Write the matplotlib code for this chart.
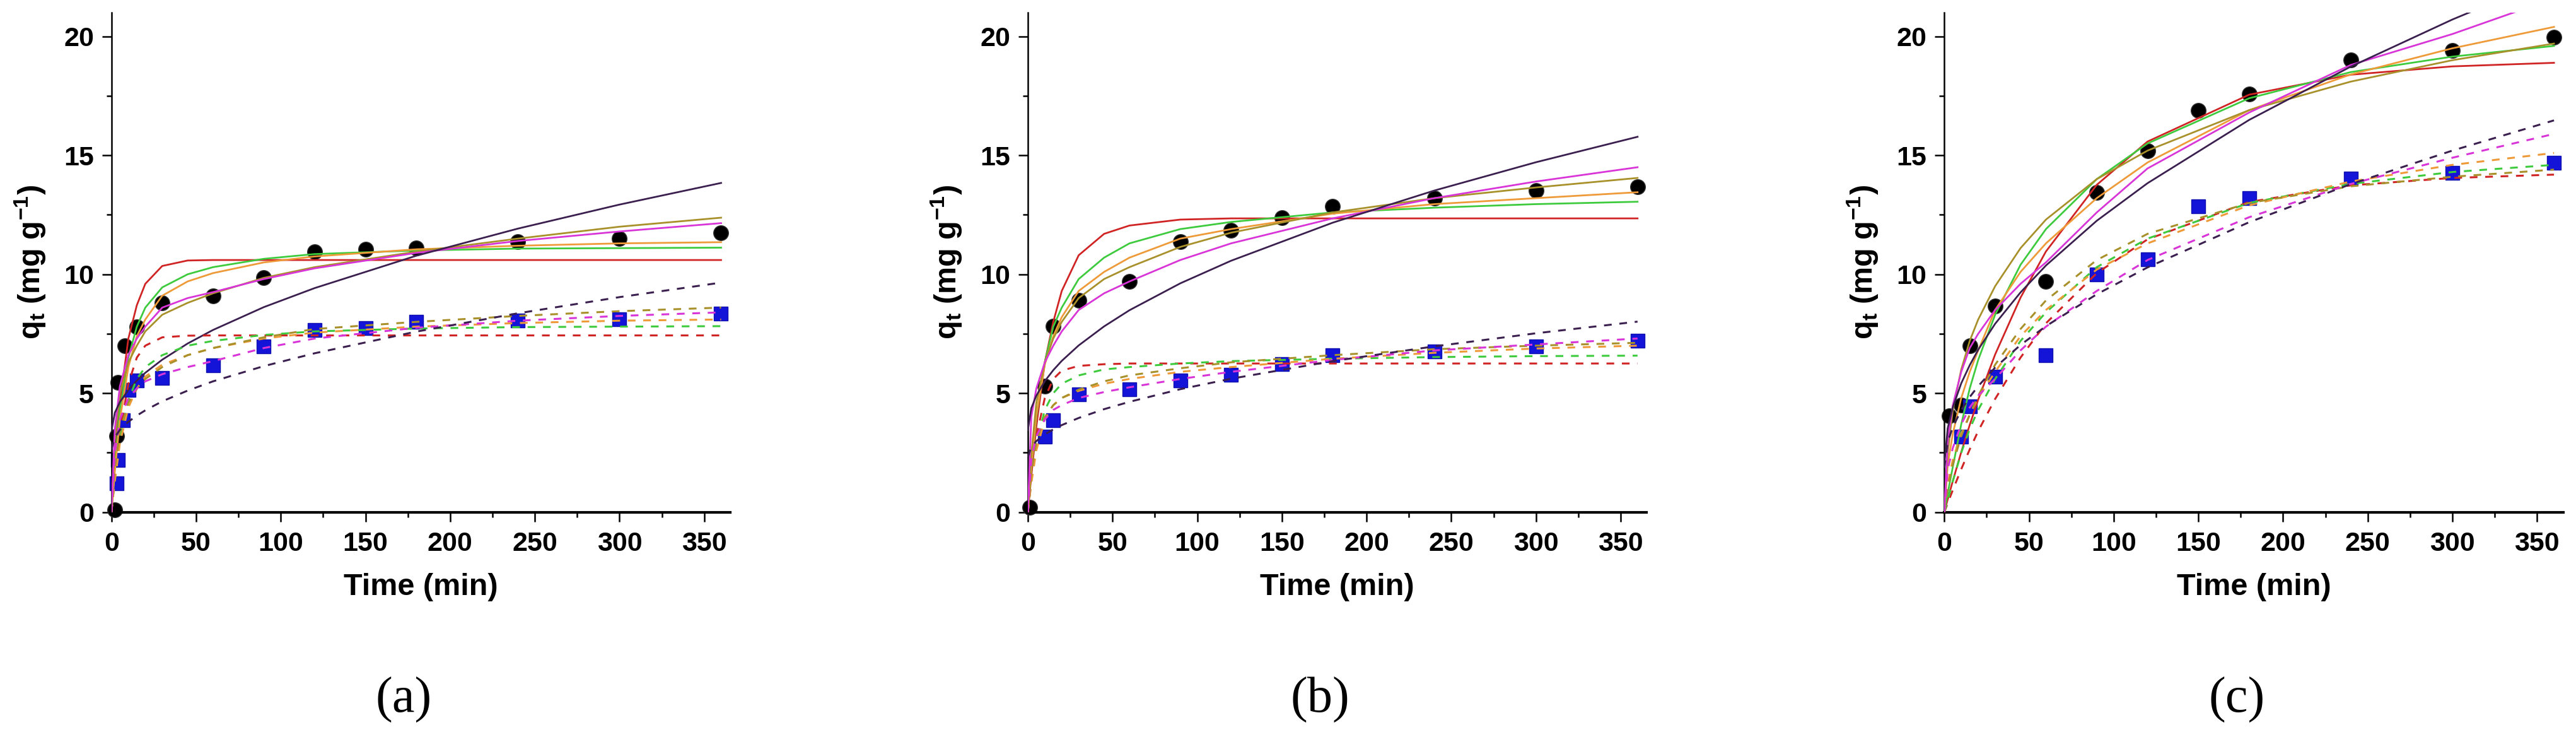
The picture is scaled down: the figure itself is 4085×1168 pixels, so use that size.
import matplotlib
matplotlib.use('Agg')
import matplotlib.pyplot as plt
from matplotlib.ticker import MultipleLocator

plt.rcParams['font.family'] = ['Liberation Sans', 'DejaVu Sans']
plt.rcParams['mathtext.fontset'] = 'custom'
plt.rcParams['mathtext.rm'] = 'Liberation Sans:bold'
plt.rcParams['mathtext.it'] = 'Liberation Sans:bold'
plt.rcParams['mathtext.bf'] = 'Liberation Sans:bold'

# ---------------- data ----------------
fit_t = [0, 2, 5, 10, 15, 20, 30, 45, 60, 90, 120, 180, 240, 300, 360]
model_colors = ['#D02424', '#3DCB3D', '#EE9A38', '#A8902A', '#D834D8', '#3A1F4F']
panel_labels = ['(a)', '(b)', '(c)']
x_label = 'Time (min)'
y_label = r'q$_{t}$ (mg g$^{-1}$)'
x_ticks = [0, 50, 100, 150, 200, 250, 300, 350]
y_ticks = [0, 5, 10, 15, 20]

# panel (a)
a_black_t = [2, 3, 4, 8, 15, 30, 60, 90, 120, 150, 180, 240, 300, 360]
a_black_q = [0.1, 3.2, 5.45, 7.0, 7.8, 8.8, 9.1, 9.86, 10.95, 11.05, 11.1, 11.36, 11.5, 11.75]
a_blue_t = [3, 4, 7, 10, 15, 30, 60, 90, 120, 150, 180, 240, 300, 360]
a_blue_q = [1.2, 2.2, 3.86, 5.15, 5.54, 5.65, 6.17, 6.98, 7.65, 7.75, 8.0, 8.05, 8.1, 8.36]
a_solid_red = [0, 2.0, 4.6, 7.3, 8.7, 9.6, 10.35, 10.58, 10.6, 10.6, 10.6, 10.6, 10.6, 10.6, 10.6]
a_solid_green = [0, 1.9, 4.3, 6.5, 7.8, 8.6, 9.45, 10.0, 10.3, 10.65, 10.85, 11.0, 11.08, 11.1, 11.12]
a_solid_orange = [0, 1.7, 3.9, 6.1, 7.4, 8.1, 9.1, 9.7, 10.05, 10.5, 10.75, 11.05, 11.2, 11.3, 11.35]
a_solid_olive = [0, 3.0, 5.0, 6.3, 7.0, 7.6, 8.3, 8.8, 9.2, 9.85, 10.3, 10.95, 11.5, 12.0, 12.38]
a_solid_magenta = [0, 3.5, 5.3, 6.6, 7.3, 7.8, 8.6, 9.0, 9.25, 9.8, 10.25, 10.9, 11.4, 11.8, 12.15]
a_solid_purple = [3.4, 4.18, 4.63, 5.14, 5.53, 5.86, 6.41, 7.09, 7.66, 8.62, 9.42, 10.78, 11.92, 12.93, 13.84]
a_dash_red = [0, 1.5, 3.4, 5.4, 6.5, 7.0, 7.35, 7.42, 7.43, 7.43, 7.43, 7.43, 7.43, 7.43, 7.43]
a_dash_green = [0, 1.4, 3.1, 4.7, 5.6, 6.1, 6.6, 7.0, 7.2, 7.45, 7.6, 7.72, 7.78, 7.8, 7.82]
a_dash_orange = [0, 1.3, 2.9, 4.4, 5.2, 5.7, 6.2, 6.6, 6.9, 7.3, 7.55, 7.8, 7.95, 8.05, 8.1]
a_dash_olive = [0, 1.8, 3.4, 4.6, 5.2, 5.6, 6.1, 6.6, 6.9, 7.35, 7.7, 8.0, 8.25, 8.45, 8.6]
a_dash_magenta = [0, 2.5, 3.9, 4.8, 5.2, 5.5, 5.8, 6.1, 6.35, 6.9, 7.3, 7.75, 8.05, 8.25, 8.4]
a_dash_purple = [2.63, 3.15, 3.46, 3.80, 4.06, 4.28, 4.66, 5.11, 5.50, 6.14, 6.68, 7.59, 8.36, 9.04, 9.65]

# panel (b)
b_black_t = [1, 10, 15, 30, 60, 90, 120, 150, 180, 240, 300, 360]
b_black_q = [0.2, 5.31, 7.83, 8.9, 9.7, 11.37, 11.85, 12.37, 12.87, 13.2, 13.51, 13.68]
b_blue_t = [10, 15, 30, 60, 90, 120, 150, 180, 240, 300, 360]
b_blue_q = [3.18, 3.86, 4.96, 5.16, 5.54, 5.77, 6.23, 6.61, 6.76, 6.96, 7.22]
b_solid_red = [0, 1.5, 3.6, 6.3, 8.0, 9.3, 10.8, 11.7, 12.05, 12.3, 12.35, 12.35, 12.35, 12.35, 12.35]
b_solid_green = [0, 1.8, 4.0, 6.3, 7.8, 8.6, 9.8, 10.7, 11.3, 11.9, 12.2, 12.6, 12.8, 12.95, 13.05]
b_solid_orange = [0, 1.9, 4.1, 6.2, 7.4, 8.2, 9.3, 10.1, 10.7, 11.5, 11.9, 12.55, 12.95, 13.2, 13.45]
b_solid_olive = [0, 2.4, 4.6, 6.3, 7.3, 8.0, 9.0, 9.8, 10.3, 11.15, 11.75, 12.6, 13.2, 13.65, 14.05]
b_solid_magenta = [0, 4.0, 5.2, 6.3, 7.0, 7.6, 8.5, 9.2, 9.7, 10.6, 11.3, 12.35, 13.2, 13.9, 14.5]
b_solid_purple = [3.45, 4.37, 4.90, 5.51, 5.97, 6.36, 7.01, 7.81, 8.49, 9.62, 10.57, 12.17, 13.52, 14.71, 15.78]
b_dash_red = [0, 1.4, 3.2, 4.8, 5.6, 5.95, 6.15, 6.22, 6.25, 6.25, 6.25, 6.25, 6.25, 6.25, 6.25]
b_dash_green = [0, 1.3, 2.9, 4.3, 5.0, 5.4, 5.75, 6.0, 6.1, 6.25, 6.35, 6.45, 6.52, 6.56, 6.58]
b_dash_orange = [0, 1.2, 2.6, 3.9, 4.5, 4.8, 5.1, 5.4, 5.6, 5.9, 6.1, 6.45, 6.7, 6.88, 7.0]
b_dash_olive = [0, 1.6, 3.0, 4.0, 4.5, 4.8, 5.15, 5.5, 5.75, 6.05, 6.3, 6.6, 6.85, 7.0, 7.12]
b_dash_magenta = [0, 2.2, 3.2, 3.9, 4.3, 4.5, 4.8, 5.05, 5.25, 5.6, 5.9, 6.4, 6.8, 7.05, 7.3]
b_dash_purple = [2.32, 2.74, 2.99, 3.27, 3.48, 3.66, 3.96, 4.33, 4.64, 5.17, 5.61, 6.35, 6.97, 7.52, 8.01]

# panel (c)
c_black_t = [3, 10, 15, 30, 60, 90, 120, 150, 180, 240, 300, 360]
c_black_q = [4.06, 4.5, 7.0, 8.67, 9.7, 13.43, 15.2, 16.9, 17.58, 19.0, 19.4, 19.96]
c_blue_t = [10, 15, 30, 60, 90, 120, 150, 180, 240, 300, 360]
c_blue_q = [3.17, 4.46, 5.7, 6.6, 10.0, 10.63, 12.87, 13.2, 14.02, 14.26, 14.7]
c_solid_red = [0, 0.54, 1.31, 2.53, 3.67, 4.73, 6.63, 9.02, 10.96, 13.76, 15.58, 17.55, 18.39, 18.74, 18.89]
c_solid_green = [0, 0.8, 1.9, 3.7, 5.2, 6.4, 8.3, 10.4, 11.9, 14.0, 15.5, 17.4, 18.5, 19.15, 19.6]
c_solid_orange = [0, 2.0, 3.3, 4.8, 5.9, 6.8, 8.5, 10.1, 11.3, 13.2, 14.7, 16.9, 18.4, 19.5, 20.4]
c_solid_olive = [0, 2.5, 4.3, 6.0, 7.2, 8.1, 9.5, 11.1, 12.3, 14.0, 15.2, 16.9, 18.1, 19.0, 19.7]
c_solid_magenta = [0, 3.0, 4.5, 5.9, 6.9, 7.5, 8.5, 9.6, 10.5, 12.6, 14.45, 16.8, 18.8, 20.1, 21.6]
c_solid_purple = [2.0, 3.53, 4.41, 5.42, 6.18, 6.83, 7.92, 9.24, 10.37, 12.25, 13.83, 16.49, 18.73, 20.71, 22.49]
c_dash_red = [0, 0.38, 0.93, 1.81, 2.64, 3.41, 4.76, 6.5, 7.94, 10.05, 11.47, 13.04, 13.74, 14.05, 14.19]
c_dash_green = [0, 0.5, 1.3, 2.5, 3.5, 4.3, 5.6, 7.2, 8.4, 10.3, 11.5, 13.0, 13.8, 14.3, 14.6]
c_dash_orange = [0, 1.2, 2.2, 3.3, 4.1, 4.8, 5.9, 7.4, 8.5, 10.2, 11.3, 12.9, 13.9, 14.6, 15.1]
c_dash_olive = [0, 1.0, 2.0, 3.2, 4.1, 4.9, 6.2, 7.7, 8.9, 10.6, 11.7, 13.0, 13.7, 14.1, 14.4]
c_dash_magenta = [0, 1.8, 2.7, 3.7, 4.4, 4.9, 5.6, 6.8, 7.8, 9.3, 10.6, 12.4, 13.8, 14.9, 15.9]
c_dash_purple = [1.86, 2.95, 3.58, 4.29, 4.84, 5.30, 6.08, 7.03, 7.82, 9.16, 10.29, 12.19, 13.79, 15.20, 16.47]

panels = [
    (a_black_t, a_black_q, a_blue_t, a_blue_q,
     [a_solid_red, a_solid_green, a_solid_orange, a_solid_olive, a_solid_magenta, a_solid_purple],
     [a_dash_red, a_dash_green, a_dash_orange, a_dash_olive, a_dash_magenta, a_dash_purple]),
    (b_black_t, b_black_q, b_blue_t, b_blue_q,
     [b_solid_red, b_solid_green, b_solid_orange, b_solid_olive, b_solid_magenta, b_solid_purple],
     [b_dash_red, b_dash_green, b_dash_orange, b_dash_olive, b_dash_magenta, b_dash_purple]),
    (c_black_t, c_black_q, c_blue_t, c_blue_q,
     [c_solid_red, c_solid_green, c_solid_orange, c_solid_olive, c_solid_magenta, c_solid_purple],
     [c_dash_red, c_dash_green, c_dash_orange, c_dash_olive, c_dash_magenta, c_dash_purple]),
]

# ---------------- figure ----------------
W, H = 4085, 1168
fig = plt.figure(figsize=(W / 100, H / 100), dpi=100)
fig.patch.set_facecolor('white')

ax_left_px = [176.7, 1630.0, 3083.3]
ax_w_px = 981.3
ax_top_px = 20.0
ax_bot_px = 811.7

for i, (bt, bq, ut, uq, solids, dashes) in enumerate(panels):
    left = ax_left_px[i] / W
    ax = fig.add_axes([left, 1 - ax_bot_px / H, ax_w_px / W, (ax_bot_px - ax_top_px) / H])
    ax.set_xlim(0, 365.4)
    ax.set_ylim(0, 21.0)

    ax.plot(bt, bq, linestyle='none', marker='o', markersize=17,
            markerfacecolor='black', markeredgecolor='#333333', zorder=2, clip_on=False)
    ax.plot(ut, uq, linestyle='none', marker='s', markersize=16,
            markerfacecolor='#1414D8', markeredgecolor='#1010B0', zorder=2, clip_on=False)

    for col, s in zip(model_colors, solids):
        ax.plot(fit_t, s, color=col, lw=2.0, zorder=3)
    for col, d in zip(model_colors, dashes):
        ax.plot(fit_t, d, color=col, lw=2.2, dashes=(4, 4), zorder=3)

    for sp in ['top', 'right']:
        ax.spines[sp].set_visible(False)
    ax.spines['bottom'].set_linewidth(3.0)
    ax.spines['left'].set_linewidth(1.8)

    ax.set_xticks(x_ticks)
    ax.set_yticks(y_ticks)
    ax.xaxis.set_minor_locator(MultipleLocator(25))
    ax.yaxis.set_minor_locator(MultipleLocator(2.5))
    ax.tick_params(axis='both', which='major', direction='out', length=11, width=1.8,
                   labelsize=31, pad=9)
    ax.tick_params(axis='both', which='minor', direction='out', length=6, width=1.8)
    ax.tick_params(axis='x', which='major', pad=11)
    for lab in ax.get_xticklabels() + ax.get_yticklabels():
        lab.set_fontweight('bold')

    ax.set_xlabel(x_label, fontsize=35, fontweight='bold')
    ax.xaxis.set_label_coords(0.5, -0.122)
    ax.set_ylabel(y_label, fontsize=35, fontweight='bold')
    ax.yaxis.set_label_coords(-0.103, 0.5)

    cx = (ax_left_px[i] + ax_w_px / 2 - 27) / W
    fig.text(cx, 1 - 1109 / H, panel_labels[i], fontsize=58,
             family=['Liberation Serif', 'DejaVu Serif'], ha='center', va='center')

fig.savefig('out.png', dpi=100, facecolor='white')
